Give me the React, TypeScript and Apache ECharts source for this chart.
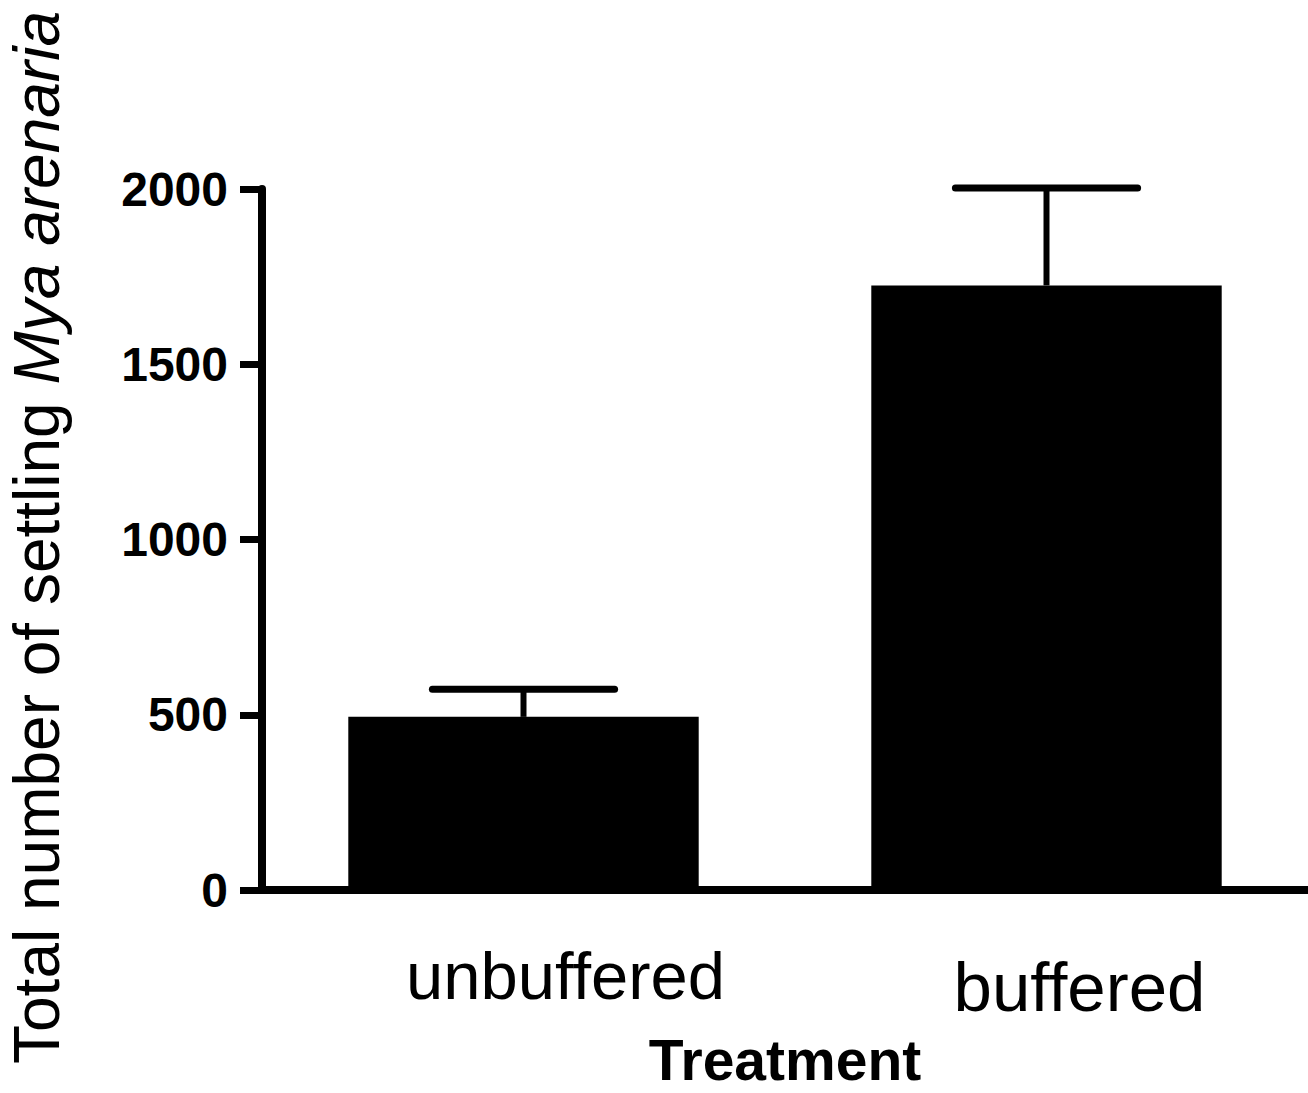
import React, { useEffect, useRef } from "react";
import * as echarts from "echarts";

const categories = ["unbuffered", "buffered"];
const means = [494, 1725];
const upperErrors = [79, 278];
const yTicks = { min: 0, max: 2000, interval: 500 };

const FONT = 'Arial, "Liberation Sans", Helvetica, sans-serif';

export default function App() {
  const ref = useRef<HTMLDivElement>(null);
  useEffect(() => {
    if (!ref.current) return;
    const chart = echarts.init(ref.current, undefined, { renderer: "svg" });
    const errData = categories.map((c, i) => [i, means[i], means[i] + upperErrors[i]]);
    chart.setOption({
      animation: false,
      backgroundColor: "#ffffff",
      grid: {
        left: 262,
        right: 0,
        top: 189,
        bottom: 203,
        containLabel: false,
        outerBoundsMode: "none",
      },
      xAxis: {
        type: "category",
        data: categories,
        name: "Treatment",
        nameLocation: "middle",
        nameGap: 146,
        nameTextStyle: {
          fontFamily: FONT,
          fontSize: 57,
          lineHeight: 48,
          fontWeight: "bold",
          color: "#000",
        },
        axisLine: { lineStyle: { color: "#000", width: 8 } },
        axisTick: { show: false },
        axisLabel: {
          interval: 0,
          hideOverlap: false,
          margin: 52,
          fontFamily: FONT,
          color: "#000",
          fontSize: 67,
          formatter: (v: string) => (v === "unbuffered" ? `{a|${v}}` : `{b|${v}}`),
          rich: {
            a: { fontFamily: FONT, fontSize: 67, color: "#000", lineHeight: 67, padding: [0, 0, 0, 84] },
            b: { fontFamily: FONT, fontSize: 69, color: "#000", lineHeight: 90, padding: [0, 0, 0, 66] },
          },
        },
        splitLine: { show: false },
      },
      yAxis: {
        type: "value",
        min: yTicks.min,
        max: yTicks.max,
        interval: yTicks.interval,
        name: "Total number of settling {i|Mya arenaria}",
        nameLocation: "middle",
        nameRotate: 90,
        nameGap: 195,
        nameTextStyle: {
          fontFamily: FONT,
          fontSize: 64,
          lineHeight: 60,
          color: "#000",
          padding: [0, 0, 0, 4],
          rich: { i: { fontFamily: FONT, fontSize: 64, lineHeight: 60, fontStyle: "italic", color: "#000" } },
        },
        axisLine: { show: true, lineStyle: { color: "#000", width: 8 } },
        axisTick: { show: true, inside: false, length: 22, lineStyle: { color: "#000", width: 7 } },
        axisLabel: {
          margin: 34,
          fontFamily: FONT,
          fontSize: 48,
          fontWeight: "bold",
          color: "#000",
          formatter: (v: number) => String(v),
        },
        splitLine: { show: false },
      },
      series: [
        {
          type: "bar",
          data: means,
          barWidth: "67%",
          itemStyle: { color: "#000" },
          z: 2,
        },
        {
          type: "custom",
          data: errData,
          z: 1,
          renderItem: (params: any, api: any) => {
            const x = api.value(0);
            const lo = api.coord([x, api.value(1)]);
            const hi = api.coord([x, api.value(2)]);
            const band = api.size([1, 0])[0];
            const half = band * 0.67 * 0.26;
            return {
              type: "group",
              children: [
                {
                  type: "line",
                  shape: { x1: lo[0], y1: lo[1], x2: hi[0], y2: hi[1] },
                  style: { stroke: "#000", lineWidth: 6 },
                },
                {
                  type: "line",
                  shape: { x1: hi[0] - half, y1: hi[1], x2: hi[0] + half, y2: hi[1] },
                  style: { stroke: "#000", lineWidth: 7, lineCap: "round" },
                },
              ],
            };
          },
        },
      ],
    });
    return () => chart.dispose();
  }, []);
  return (
    <div
      ref={ref}
      style={{ position: "absolute", left: 0, top: 0, width: 1308, height: 1093 }}
    />
  );
}
